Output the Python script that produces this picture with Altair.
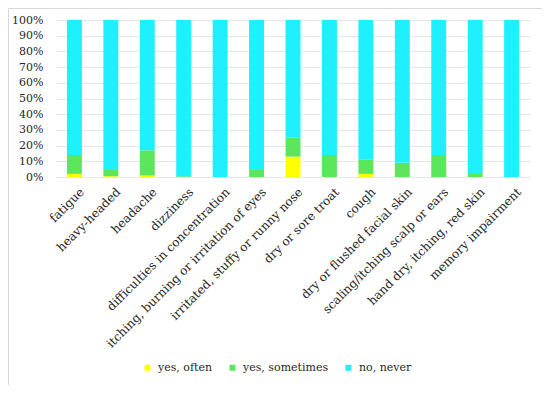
import altair as alt
import pandas as pd

categories = [
    "fatigue", "heavy-headed", "headache", "dizziness",
    "difficulties in concentration", "itching, burning or irritation of eyes",
    "irritated, stuffy or runny nose", "dry or sore troat", "cough",
    "dry or flushed facial skin", "scaling/itching scalp or ears",
    "hand dry, itching, red skin", "memory impairment",
]
series = ["yes, often", "yes, sometimes", "no, never"]
often = [2, 0.5, 1, 0, 0, 0, 13, 0, 2, 0, 0, 0, 0]
sometimes = [12, 4.5, 16, 0.5, 0, 5, 12, 14, 9, 9, 14, 2.5, 0]
never = [86, 95, 83, 99.5, 100, 95, 75, 86, 89, 91, 86, 97.5, 100]
colors = ["#ffff00", "#5ce65c", "#1ef0ff"]

rows = []
for i, c in enumerate(categories):
    for k, (s, vals) in enumerate(zip(series, [often, sometimes, never])):
        rows.append({"cat": c, "series": s, "value": vals[i], "ord": k})
df = pd.DataFrame(rows)

FONT = "DejaVu Serif"

bars = alt.Chart(df).mark_bar().encode(
    x=alt.X("cat:N", sort=categories, title=None,
            scale=alt.Scale(paddingInner=0.59, paddingOuter=0.3),
            axis=alt.Axis(labelAngle=-45, labelPadding=9, labelOffset=4, ticks=False,
                          domain=False, labelFontSize=12, labelFont=FONT,
                          labelColor="#262626", labelLimit=400)),
    y=alt.Y("value:Q", stack="normalize", title=None,
            scale=alt.Scale(domain=[0, 1]),
            axis=alt.Axis(format="%", values=[i / 10 for i in range(11)],
                          ticks=False, domain=False, labelPadding=13,
                          labelOverlap=False,
                          labelFontSize=11, labelFont=FONT, labelColor="#262626",
                          gridColor="#e6e6e6")),
    color=alt.Color("series:N", sort=series,
                    scale=alt.Scale(domain=series, range=colors),
                    legend=alt.Legend(title=None, orient="none", direction="horizontal",
                                      legendX=86, legendY=342, symbolType="square",
                                      symbolSize=36, symbolStrokeWidth=0,
                                      labelFontSize=11, labelFont=FONT,
                                      labelColor="#262626", columnPadding=14,
                                      labelOffset=5)),
    order=alt.Order("ord:Q"),
)

border = alt.Chart(pd.DataFrame({"a": [0]})).mark_rect(
    fill=None, stroke="#d9d9d9", strokeWidth=1, clip=False
).encode(
    x=alt.value(-47.5), x2=alt.value(488.5),
    y=alt.value(-11.5), y2=alt.value(367.5),
)

chart = alt.layer(bars, border).properties(
    width=474, height=157,
    autosize=alt.AutoSizeParams(type="none"),
    padding={"left": 48, "top": 12, "right": 12, "bottom": 208},
).configure_view(stroke=None)

chart.save("out.html", embed_options={"renderer": "svg", "actions": False})
